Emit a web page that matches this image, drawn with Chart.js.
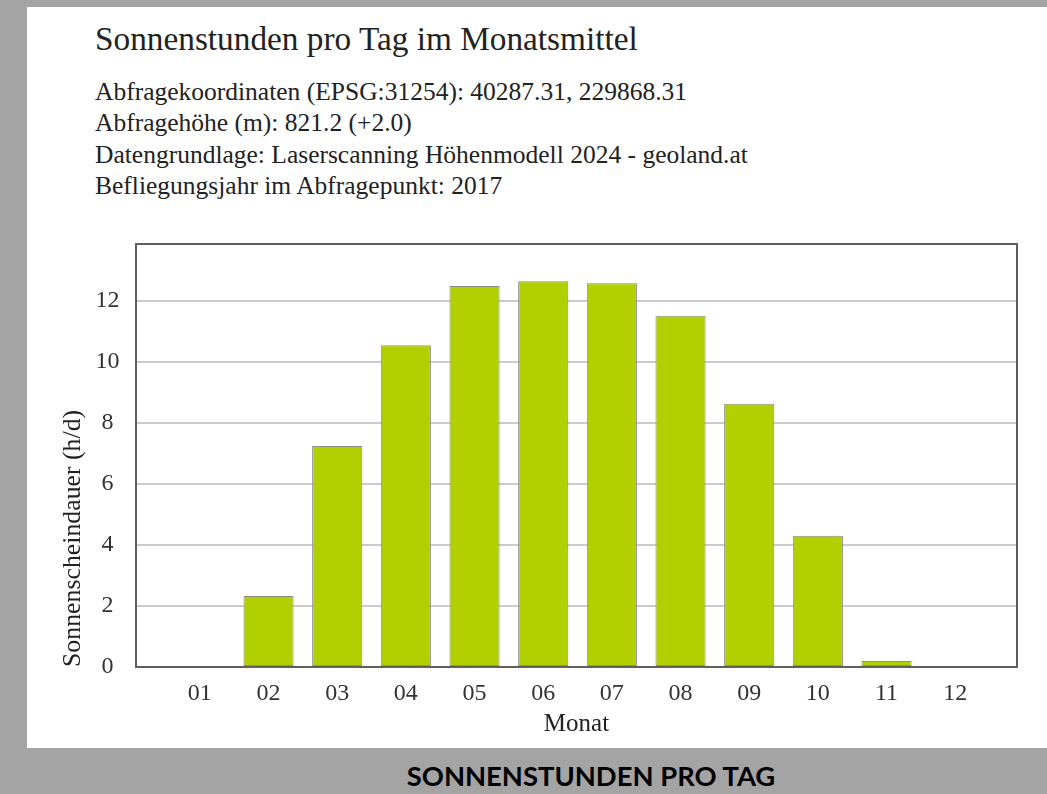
<!DOCTYPE html>
<html>
<head>
<meta charset="utf-8">
<script src="https://cdn.jsdelivr.net/npm/chart.js@4.4.1/dist/chart.umd.min.js"></script>
<style>
html,body{margin:0;padding:0;}
body{width:1047px;height:794px;background:#a4a4a4;position:relative;overflow:hidden;font-family:"Liberation Serif",serif;}
#panel{position:absolute;left:27px;top:7px;width:1020px;height:741px;background:#fff;}
#title{position:absolute;left:68px;top:12px;font-size:33.3px;line-height:40px;color:#222;white-space:nowrap;}
.sub{position:absolute;left:68px;font-size:25.5px;line-height:30px;color:#222;white-space:nowrap;}
#wrap{position:absolute;left:0;top:213px;width:1020px;height:528px;}
#caption{position:absolute;left:391px;width:400px;top:759px;text-align:center;font-family:Lato,"Liberation Sans",sans-serif;font-weight:bold;font-size:27.4px;line-height:34px;color:#000;white-space:nowrap;}
</style>
</head>
<body>
<div id="panel">
  <div id="title">Sonnenstunden pro Tag im Monatsmittel</div>
  <div class="sub" style="top:70px">Abfragekoordinaten (EPSG:31254): 40287.31, 229868.31</div>
  <div class="sub" style="top:101px">Abfragehöhe (m): 821.2 (+2.0)</div>
  <div class="sub" style="top:133px">Datengrundlage: Laserscanning Höhenmodell 2024 - geoland.at</div>
  <div class="sub" style="top:164px">Befliegungsjahr im Abfragepunkt: 2017</div>
  <div id="wrap"><canvas id="c"></canvas></div>
</div>
<div id="caption">SONNENSTUNDEN PRO TAG</div>
<script>
const months = ['01','02','03','04','05','06','07','08','09','10','11','12'];
const sunHours = [0, 2.33, 7.25, 10.55, 12.49, 12.65, 12.58, 11.52, 8.63, 4.30, 0.20, 0];
const yTickValues = [0, 2, 4, 6, 8, 10, 12];
const yMax = 13.87;
const xMin = 0.07;
const xMax = 12.9;

Chart.defaults.font.family = '"Liberation Serif", serif';
Chart.defaults.color = '#333';

const framePlugin = {
  id: 'frame',
  afterDatasetsDraw(chart) {
    const {ctx, chartArea: a} = chart;
    ctx.save();
    ctx.strokeStyle = '#5f5f5f';
    ctx.lineWidth = 2;
    ctx.strokeRect(a.left, a.top, a.right - a.left, a.bottom - a.top);
    ctx.restore();
  }
};

new Chart(document.getElementById('c'), {
  type: 'bar',
  data: {
    datasets: [{
      label: 'Sonnenscheindauer',
      data: months.map((m, i) => ({x: i + 1, y: sunHours[i]})),
      backgroundColor: '#b2d000',
      borderColor: '#8c8c8c',
      borderWidth: 1,
      borderSkipped: false,
      categoryPercentage: 0.73,
      barPercentage: 1.0
    }]
  },
  options: {
    responsive: true,
    maintainAspectRatio: false,
    animation: false,
    layout: {padding: {top: 24, right: 30, left: 0, bottom: 0}},
    plugins: {legend: {display: false}, tooltip: {enabled: false}},
    scales: {
      x: {
        type: 'linear',
        min: xMin,
        max: xMax,
        offset: false,
        grid: {display: false, drawTicks: false},
        border: {display: false},
        afterBuildTicks: s => { s.ticks = months.map((m, i) => ({value: i + 1})); },
        afterFit: s => { s.height = 81; s.paddingLeft = 0; s.paddingRight = 0; },
        ticks: {
          callback: v => months[v - 1],
          font: {size: 24},
          color: '#333',
          padding: 12,
          maxRotation: 0,
          autoSkip: false
        },
        title: {display: true, text: 'Monat', font: {size: 25}, color: '#222', padding: {top: 0, bottom: 9}}
      },
      y: {
        min: 0,
        max: yMax,
        afterBuildTicks: s => { s.ticks = yTickValues.map(v => ({value: v})); },
        afterFit: s => { s.width = 109; s.paddingTop = 0; s.paddingBottom = 0; },
        grid: {color: '#cbcbcb', lineWidth: 2, drawTicks: false},
        border: {display: false},
        ticks: {font: {size: 24}, color: '#333', padding: 16.5, crossAlign: 'center'},
        title: {display: true, text: 'Sonnenscheindauer (h/d)', align: 'start', font: {size: 25.8}, color: '#222', padding: {top: 31, bottom: 0}}
      }
    }
  },
  plugins: [framePlugin]
});
</script>
</body>
</html>
